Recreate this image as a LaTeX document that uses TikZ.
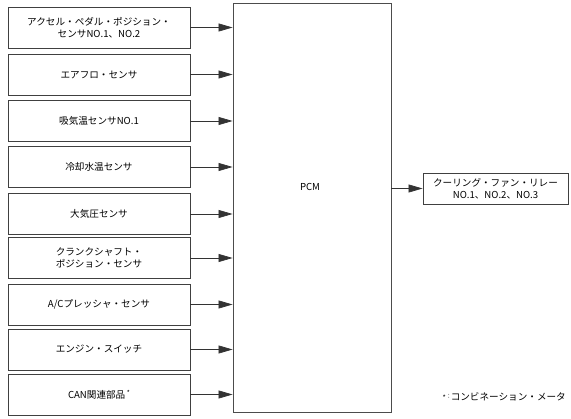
\documentclass[tikz,border=0pt]{standalone}
\usepackage{fontspec}
\setmainfont{Noto Sans CJK JP}
\usetikzlibrary{arrows.meta}
\begin{document}
\begin{tikzpicture}[x=1pt,y=-1pt,
  txt/.style={font=\fontsize{9.6}{12}\selectfont},
  inbox/.style={txt,draw=black!75,line width=0.9pt,minimum width=182pt,minimum height=41pt,align=center,inner sep=0pt},
  arr/.style={line width=0.7pt,draw=black!80,-{Triangle[length=14pt,width=8pt]}}]
\useasboundingbox (0,0) rectangle (571,419);
\node[draw=black!70,line width=0.9pt,minimum width=158pt,minimum height=409pt,inner sep=0pt] (pcm) at (312,207.5) {};
\node[txt] (pcmlabel) at (310,187) {PCM};
\node[inbox] (s1) at (99,27.5) {アクセル・ペダル・ポジション・\\センサNO.1、NO.2};
\node[inbox] (s2) at (99,74.5) {エアフロ・センサ};
\node[inbox] (s3) at (99,121) {吸気温センサNO.1};
\node[inbox] (s4) at (99,167) {冷却水温センサ};
\node[inbox] (s5) at (99,214) {大気圧センサ};
\node[inbox] (s6) at (99,258) {クランクシャフト・\\ポジション・センサ};
\node[inbox] (s7) at (99,304.5) {A/Cプレッシャ・センサ};
\node[inbox] (s8) at (99,349.5) {エンジン・スイッチ};
\node[inbox] (s9) at (99,394.5) {CAN関連部品\,\raisebox{0.6ex}{\fontsize{6.5}{6}\selectfont *}};
\node[inbox,minimum width=145pt,minimum height=31pt] (out) at (495.5,188.5) {クーリング・ファン・リレー\\NO.1、NO.2、NO.3};
\node[txt,anchor=east,inner sep=0pt] (note) at (566,397) {\raisebox{0.1ex}{\fontsize{7}{6}\selectfont *}\raisebox{0.5ex}{\fontsize{6}{6}\selectfont ：}\hspace{-1pt}コンビネーション・メータ};
\foreach \i in {1,...,9} {
  \draw[arr] (s\i.east) -- (s\i.east -| pcm.west);
}
\draw[arr] (pcm.east |- out.west) -- (out.west);
\end{tikzpicture}
\end{document}
